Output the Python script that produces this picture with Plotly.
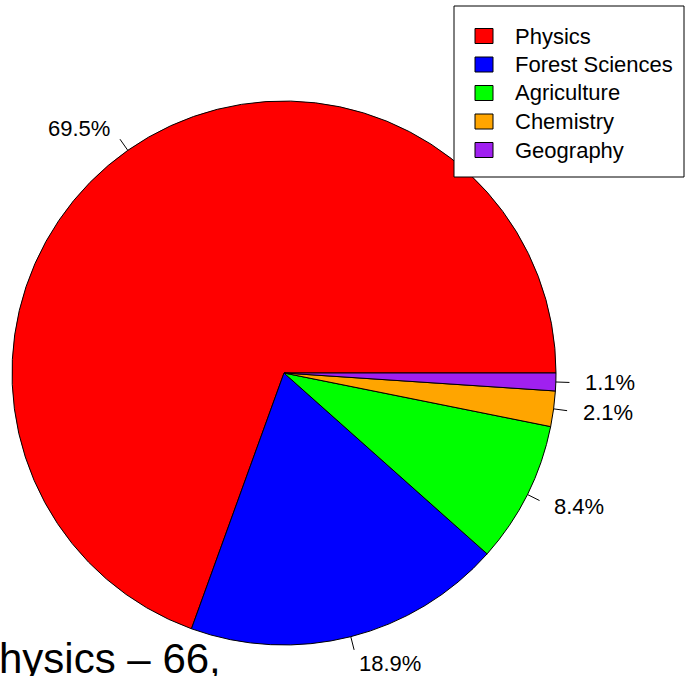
import math
import plotly.graph_objects as go

categories = ["Physics", "Forest Sciences", "Agriculture", "Chemistry", "Geography"]
counts = [66, 18, 8, 2, 1]
colors = ["#FF0000", "#0000FF", "#00FF00", "#FFA500", "#A020F0"]
caption = "Physics \u2013 66,"

W, H = 685, 676
CX, CY, R = 284, 373, 272
FONT = "Liberation Sans, Arial, sans-serif"

def px(x):
    return x / W

def py(y):
    return 1 - y / H

total = sum(counts)
pcts = [c / total * 100 for c in counts]

# R-style pie: first slice starts at 3 o'clock and runs counterclockwise.
# In plotly's counterclockwise mode `rotation` marks the end of the first slice
# (degrees clockwise from 12 o'clock), so derive it from the first value.
rotation = 90 - 360 * counts[0] / total

fig = go.Figure()
fig.add_trace(go.Pie(
    labels=categories,
    values=counts,
    sort=False,
    direction="counterclockwise",
    rotation=rotation,
    marker=dict(colors=colors, line=dict(color="black", width=1)),
    textinfo="none",
    hoverinfo="label+value+percent",
    showlegend=False,
    domain=dict(x=[px(CX - R), px(CX + R)], y=[py(CY + R), py(CY - R)]),
))

shapes = []
annotations = []

# percentage labels with leader ticks
cum = 0.0
for cnt, pct in zip(counts, pcts):
    mid = (cum + cnt / 2) / total * 2 * math.pi
    cum += cnt
    c, s = math.cos(mid), math.sin(mid)
    shapes.append(dict(type="line", xref="paper", yref="paper",
                       x0=px(CX + R * c), y0=py(CY - R * s),
                       x1=px(CX + 1.05 * R * c), y1=py(CY - 1.05 * R * s),
                       line=dict(color="black", width=1)))
    annotations.append(dict(xref="paper", yref="paper",
                            x=px(CX + 1.1 * R * c), y=py(CY - 1.1 * R * s),
                            text=f"{pct:.1f}%", showarrow=False,
                            xanchor="left" if c > 0 else "right", yanchor="middle",
                            font=dict(family=FONT, size=22, color="black")))

# legend box
LX0, LY0, LX1, LY1 = 454, 6, 684, 177
shapes.append(dict(type="rect", xref="paper", yref="paper",
                   x0=px(LX0), y0=py(LY0), x1=px(LX1), y1=py(LY1),
                   line=dict(color="black", width=1), fillcolor="white"))
row0, step = 36, 28.5
for i, (cat, col) in enumerate(zip(categories, colors)):
    yc = row0 + i * step
    shapes.append(dict(type="rect", xref="paper", yref="paper",
                       x0=px(475), x1=px(493), y0=py(yc - 7.5), y1=py(yc + 7.5),
                       line=dict(color="black", width=1), fillcolor=col))
    annotations.append(dict(xref="paper", yref="paper", x=px(513), y=py(yc),
                            text=cat, showarrow=False, xanchor="left", yanchor="middle",
                            font=dict(family=FONT, size=22, color="black")))

# caption (partly outside the drawing area, as in the reference)
annotations.append(dict(xref="paper", yref="paper", x=px(223), y=py(658),
                        text=caption, showarrow=False, xanchor="right", yanchor="middle",
                        font=dict(family=FONT, size=42, color="black")))

fig.update_layout(
    width=W, height=H,
    margin=dict(l=0, r=0, t=0, b=0),
    paper_bgcolor="white", plot_bgcolor="white",
    shapes=shapes, annotations=annotations,
    showlegend=False,
)

fig.write_html("out.html",
               config={"displayModeBar": False},
               post_script="document.body.style.margin='0';document.body.style.overflow='hidden';")
